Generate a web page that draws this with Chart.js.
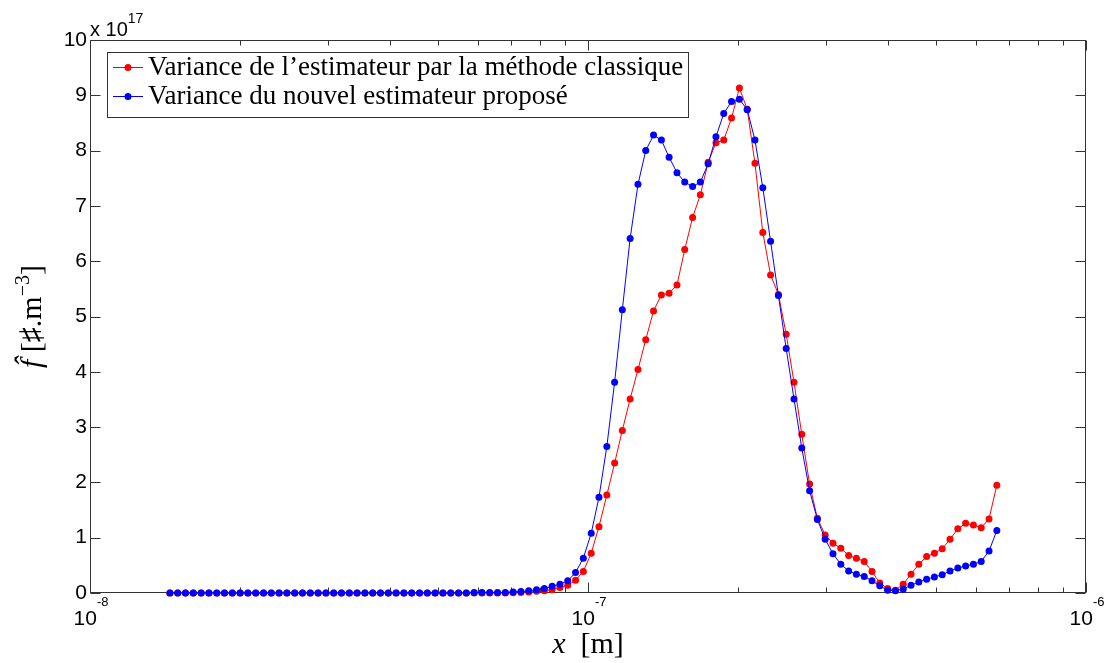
<!DOCTYPE html>
<html>
<head>
<meta charset="utf-8">
<script src="https://cdn.jsdelivr.net/npm/chart.js@4.4.1/dist/chart.umd.min.js"></script>
<style>
  html, body { margin: 0; padding: 0; background: #fff; }
  #wrap { width: 1110px; height: 663px; position: relative; }
</style>
</head>
<body>
<div id="wrap"><canvas id="distChart"></canvas></div>
<script>
// particle size grid, in nm
const sizeNm = [
    14.47, 15.00, 15.55, 16.12, 16.72, 17.33, 17.97, 18.62, 19.31, 20.02,
    20.75, 21.52, 22.31, 23.12, 23.97, 24.85, 25.77, 26.71, 27.69, 28.71,
    29.77, 30.86, 31.99, 33.17, 34.38, 35.65, 36.96, 38.31, 39.72, 41.18,
    42.69, 44.26, 45.89, 47.57, 49.32, 51.13, 53.01, 54.95, 56.97, 59.07,
    61.23, 63.48, 65.82, 68.23, 70.74, 73.34, 76.03, 78.82, 81.72, 84.72,
    87.83, 91.06, 94.40, 97.87, 101.5, 105.2, 109.1, 113.1, 117.2, 121.5,
    126.0, 130.6, 135.4, 140.4, 145.5, 150.9, 156.4, 162.2, 168.1, 174.3,
    180.7, 187.3, 194.2, 201.4, 208.8, 216.4, 224.4, 232.6, 241.2, 250.0,
    259.2, 268.7, 278.6, 288.8, 299.4, 310.4, 321.8, 333.7, 345.9, 358.6,
    371.8, 385.4, 399.6, 414.3, 429.5, 445.3, 461.6, 478.6, 496.1, 514.4,
    533.3, 552.9, 573.2, 594.2, 616.0, 638.7, 662.1
];

// variances, in units of 1e17 #.m^-3
const classicVar = [
    0, 0, 0, 0, 0, 0, 0, 0, 0, 0,
    0, 0, 0, 0, 0, 0, 0, 0, 0, 0,
    0, 0, 0, 0, 0, 0, 0, 0, 0, 0,
    0, 0, 0, 0, 0, 0, 0, 0, 0, 0,
    0, 0, 0, 0, 0.005, 0.01, 0.02, 0.03, 0.04, 0.06,
    0.10, 0.14, 0.23, 0.39, 0.72, 1.20, 1.77, 2.35, 2.94, 3.51,
    4.04, 4.58, 5.10, 5.39, 5.42, 5.57, 6.21, 6.79, 7.20, 7.79,
    8.14, 8.19, 8.59, 9.13, 8.75, 7.77, 6.52, 5.75, 5.40, 4.68,
    3.81, 2.87, 1.97, 1.35, 1.05, 0.90, 0.81, 0.68, 0.63, 0.57,
    0.39, 0.18, 0.08, 0.05, 0.16, 0.34, 0.52, 0.66, 0.72, 0.80,
    0.97, 1.16, 1.26, 1.23, 1.18, 1.34, 1.95
];
const proposedVar = [
    0, 0, 0, 0, 0, 0, 0, 0, 0, 0,
    0, 0, 0, 0, 0, 0, 0, 0, 0, 0,
    0, 0, 0, 0, 0, 0, 0, 0, 0, 0,
    0, 0, 0, 0, 0, 0, 0, 0, 0, 0.01,
    0.01, 0.01, 0.01, 0.01, 0.02, 0.025, 0.04, 0.06, 0.08, 0.12,
    0.16, 0.22, 0.37, 0.63, 1.08, 1.73, 2.65, 3.81, 5.12, 6.41,
    7.39, 8.00, 8.28, 8.19, 7.88, 7.60, 7.43, 7.35, 7.43, 7.76,
    8.25, 8.67, 8.89, 8.93, 8.74, 8.19, 7.33, 6.36, 5.38, 4.42,
    3.51, 2.62, 1.85, 1.33, 0.97, 0.71, 0.52, 0.40, 0.34, 0.30,
    0.22, 0.13, 0.05, 0.04, 0.07, 0.14, 0.20, 0.25, 0.29, 0.33,
    0.40, 0.45, 0.49, 0.52, 0.57, 0.76, 1.13
];

const seriesNames = [
    'Variance de l\u2019estimateur par la m\u00e9thode classique',
    'Variance du nouvel estimateur propos\u00e9'
];
const seriesColors = ['#ff0000', '#0000ff'];
const xDecades = [1e-8, 1e-7, 1e-6];
const yExponent = '17';

const SANS = '"Liberation Sans", Arial, sans-serif';
const SERIF = '"Liberation Serif", "DejaVu Serif", serif';

function toPoints(values) {
    return values.map((v, i) => ({ x: sizeNm[i] * 1e-9, y: v }));
}

// draw a run of text pieces (text, font, dy) starting at x
function drawPieces(ctx, pieces, x, y) {
    pieces.forEach(p => {
        ctx.font = p.font;
        ctx.fillText(p.t, x, y + (p.dy || 0));
        x += ctx.measureText(p.t).width;
    });
}
function piecesWidth(ctx, pieces) {
    let w = 0;
    pieces.forEach(p => { ctx.font = p.font; w += ctx.measureText(p.t).width; });
    return w;
}

// MATLAB-like box, ticks and labels
const axesPlugin = {
    id: 'matlabAxes',
    beforeDatasetsDraw(chart) {
        const ctx = chart.ctx;
        const a = chart.chartArea;
        const xs = chart.scales.x, ys = chart.scales.y;
        const L = Math.round(a.left) + 0.5, R = Math.round(a.right) - 0.5;
        const T = Math.round(a.top) + 0.5, B = Math.round(a.bottom) - 0.5;
        ctx.save();
        ctx.strokeStyle = '#333';
        ctx.lineWidth = 1;
        ctx.strokeRect(L, T, R - L, B - T);

        ctx.beginPath();
        // x ticks, major + minor, bottom and top, pointing inwards
        for (let d = -8; d <= -6; d++) {
            for (let m = 1; m <= 9; m++) {
                const v = m * Math.pow(10, d);
                if (v > 1e-6 * 1.0001) break;
                const px = Math.round(xs.getPixelForValue(v)) + 0.5;
                const len = m === 1 ? 10 : 5;
                ctx.moveTo(px, B); ctx.lineTo(px, B - len);
                ctx.moveTo(px, T); ctx.lineTo(px, T + len);
            }
        }
        // y ticks left and right
        ys.ticks.forEach(t => {
            const py = Math.round(ys.getPixelForValue(t.value)) + 0.5;
            ctx.moveTo(L, py); ctx.lineTo(L + 10, py);
            ctx.moveTo(R, py); ctx.lineTo(R - 10, py);
        });
        ctx.stroke();
        ctx.restore();
    },
    afterDraw(chart) {
        const ctx = chart.ctx;
        const a = chart.chartArea;
        const xs = chart.scales.x, ys = chart.scales.y;
        ctx.save();
        ctx.fillStyle = '#000';

        // y tick labels
        ctx.textAlign = 'right';
        ctx.textBaseline = 'middle';
        ctx.font = '21px ' + SANS;
        ys.ticks.forEach(t => {
            ctx.fillText(String(t.value), a.left - 3, ys.getPixelForValue(t.value));
        });

        // exponent above y axis
        ctx.textAlign = 'left';
        ctx.textBaseline = 'alphabetic';
        drawPieces(ctx, [
            { t: 'x 10', font: '20px ' + SANS },
            { t: yExponent, font: '14px ' + SANS, dy: -13 }
        ], a.left, 36);

        // x tick labels 10^n
        xDecades.forEach(v => {
            const pieces = [
                { t: '10', font: '21px ' + SANS },
                { t: String(Math.round(Math.log10(v))), font: '13px ' + SANS, dy: -19 }
            ];
            const w = piecesWidth(ctx, pieces);
            drawPieces(ctx, pieces, xs.getPixelForValue(v) - w / 2 + 1, 625);
        });

        // x axis title
        const xt = [
            { t: 'x', font: 'italic 30px ' + SERIF },
            { t: '  [m]', font: '30px ' + SERIF }
        ];
        const xw = piecesWidth(ctx, xt);
        drawPieces(ctx, xt, (a.left + a.right) / 2 - xw / 2, 653);

        // y axis title, rotated
        const yt = [
            { t: 'f\u0302', font: 'italic 30px ' + SERIF },
            { t: ' [\u266f.m', font: '30px ' + SERIF },
            { t: '\u22123', font: '20px ' + SERIF, dy: -12 },
            { t: ']', font: '30px ' + SERIF }
        ];
        const yw = piecesWidth(ctx, yt);
        ctx.translate(41, (a.top + a.bottom) / 2);
        ctx.rotate(-Math.PI / 2);
        drawPieces(ctx, yt, -yw / 2, 0);
        ctx.restore();

        // legend box inside the axes
        const x0 = Math.round(a.left) + 17, y0 = Math.round(a.top) + 12;
        const w = 581, h = 65;
        ctx.save();
        ctx.fillStyle = '#fff';
        ctx.fillRect(x0, y0, w, h);
        ctx.strokeStyle = '#333';
        ctx.lineWidth = 1;
        ctx.strokeRect(x0 + 0.5, y0 + 0.5, w, h);
        seriesNames.forEach((name, i) => {
            const cy = y0 + 15 + i * 29;
            ctx.strokeStyle = seriesColors[i];
            ctx.beginPath();
            ctx.moveTo(x0 + 6, cy + 0.5); ctx.lineTo(x0 + 36, cy + 0.5);
            ctx.stroke();
            ctx.fillStyle = seriesColors[i];
            ctx.beginPath();
            ctx.arc(x0 + 21, cy + 0.5, 3.5, 0, Math.PI * 2);
            ctx.fill();
            ctx.fillStyle = '#000';
            ctx.font = '27px ' + SERIF;
            ctx.textAlign = 'left';
            ctx.textBaseline = 'middle';
            ctx.fillText(name, x0 + 41, cy + 1);
        });
        ctx.restore();
    }
};

const ctx = document.getElementById('distChart');
const data = {
    datasets: [{
        label: seriesNames[0],
        data: toPoints(classicVar),
        borderColor: seriesColors[0],
        backgroundColor: seriesColors[0],
        order: 1
    }, {
        label: seriesNames[1],
        data: toPoints(proposedVar),
        borderColor: seriesColors[1],
        backgroundColor: seriesColors[1],
        order: 0   // drawn on top, as in the original
    }]
};
const config = {
    type: 'line',
    data: data,
    options: {
        responsive: true,
        maintainAspectRatio: false,
        animation: false,
        events: [],
        layout: {
            padding: { left: 90, right: 24, top: 40, bottom: 70 }
        },
        elements: {
            line: { borderWidth: 1, tension: 0 },
            point: { radius: 3.5, borderWidth: 0, hoverRadius: 3.5 }
        },
        datasets: {
            line: { clip: false }
        },
        plugins: {
            legend: { display: false },
            tooltip: { enabled: false }
        },
        scales: {
            x: {
                type: 'logarithmic',
                min: 1e-8,
                max: 1e-6,
                display: false
            },
            y: {
                type: 'linear',
                min: 0,
                max: 10,
                ticks: { stepSize: 1 },
                display: false
            }
        }
    },
    plugins: [axesPlugin]
};
const myChart = new Chart(ctx, config);
</script>
</body>
</html>
